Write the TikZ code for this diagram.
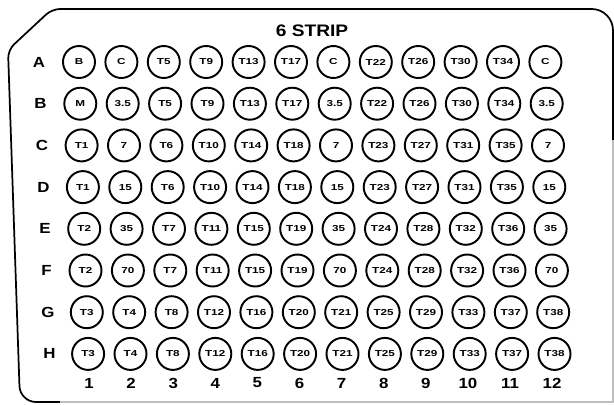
\documentclass[tikz,border=0pt]{standalone}
\usepackage{fontspec}
\setmainfont{Liberation Sans}
\newfontfamily\wellfont[FakeStretch=1.35]{Liberation Sans}
\newfontfamily\widefont[FakeStretch=1.15]{Liberation Sans}
\begin{document}
\begin{tikzpicture}[x=0.75pt,y=-0.75pt,
  well/.style={circle,draw,line width=1.45pt,minimum size=24pt,inner sep=0pt,font=\wellfont\fontsize{6.5}{6.5}\selectfont\bfseries},
  rowlab/.style={font=\widefont\fontsize{11}{12}\selectfont\bfseries},
  collab/.style={font=\widefont\fontsize{11}{12}\selectfont\bfseries},
  titlelab/.style={font=\widefont\fontsize{12.5}{14}\selectfont\bfseries},
  frameline/.style={line width=1.3pt},
  faintline/.style={line width=0.8pt,black!25}]
\useasboundingbox (0,0) rectangle (614,404);
% frame
\draw[frameline] (613,140) [rounded corners=16] -- (613,9) [rounded corners=6] -- (52,9) -- (8,50) [rounded corners=12] -- (20,402) -- (60,402);
\draw[faintline] (60,402) -- (613,402) -- (613,140);
% title
\node[titlelab] (title) at (312,31) {6 STRIP};
% row labels
\foreach \L [count=\r from 0] in {A,B,C,D,E,F,G,H}
  \node[rowlab] (row-\L) at ({39+1.5*\r},{62+41.7*\r}) {\L};
% column labels
\foreach \c in {1,...,12}
  \node[collab] (col-\c) at ({89+42.1*(\c-1)},383) {\c};
% wells
\foreach \rowlist [count=\r from 0] in {
  {B,C,T5,T9,T13,T17,C,T22,T26,T30,T34,C},
  {M,3.5,T5,T9,T13,T17,3.5,T22,T26,T30,T34,3.5},
  {T1,7,T6,T10,T14,T18,7,T23,T27,T31,T35,7},
  {T1,15,T6,T10,T14,T18,15,T23,T27,T31,T35,15},
  {T2,35,T7,T11,T15,T19,35,T24,T28,T32,T36,35},
  {T2,70,T7,T11,T15,T19,70,T24,T28,T32,T36,70},
  {T3,T4,T8,T12,T16,T20,T21,T25,T29,T33,T37,T38},
  {T3,T4,T8,T12,T16,T20,T21,T25,T29,T33,T37,T38}}
  \foreach \lab [count=\c from 0] in \rowlist
    \node[well] (w-\r-\c) at ({79+42.4*\c+1.3*\r},{62+41.7*\r}) {\lab};
\end{tikzpicture}
\end{document}
